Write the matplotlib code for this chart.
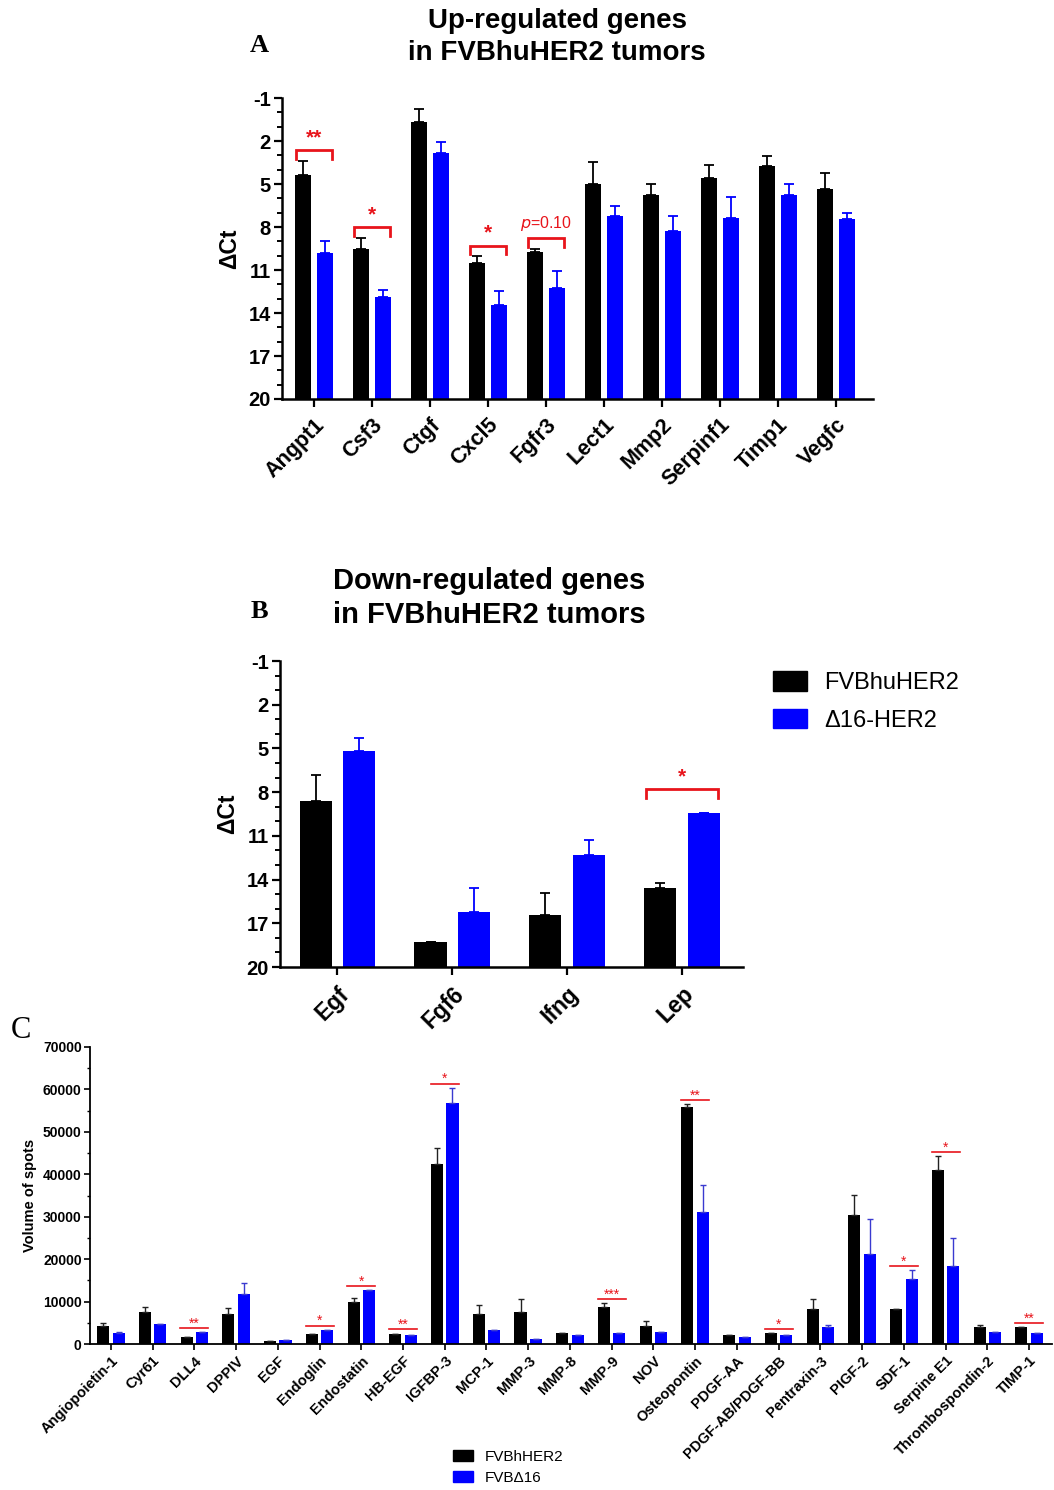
import numpy as np
import matplotlib
matplotlib.use('Agg')
import matplotlib.pyplot as plt
from matplotlib.patches import Patch
from matplotlib.ticker import MultipleLocator

plt.rcParams['font.family'] = ['Liberation Sans', 'DejaVu Sans']
plt.rcParams['axes.unicode_minus'] = False

# panel A - up-regulated genes (dCt, lower = more expression)
genes_a = ['Angpt1', 'Csf3', 'Ctgf', 'Cxcl5', 'Fgfr3', 'Lect1', 'Mmp2', 'Serpinf1', 'Timp1', 'Vegfc']
her2_a = [4.4, 9.5, 0.65, 10.5, 9.75, 5.0, 5.75, 4.55, 3.75, 5.35]
her2_a_err = [1.0, 0.75, 0.9, 0.45, 0.2, 1.55, 0.75, 0.9, 0.7, 1.15]
d16_a = [9.8, 12.9, 2.85, 13.45, 12.25, 7.2, 8.3, 7.35, 5.75, 7.45]
d16_a_err = [0.85, 0.5, 0.75, 1.0, 1.2, 0.7, 1.1, 1.45, 0.75, 0.4]
sig_a = {0: '**', 1: '*', 3: '*', 4: 'p=0.10'}

# panel B - down-regulated genes
genes_b = ['Egf', 'Fgf6', 'Ifng', 'Lep']
her2_b = [8.6, 18.3, 16.4, 14.55]
her2_b_err = [1.8, 0.0, 1.5, 0.3]
d16_b = [5.15, 16.2, 12.3, 9.4]
d16_b_err = [0.85, 1.65, 1.0, 0.0]
sig_b = {3: '*'}

# panel C - angiogenesis array
prot_c = ['Angiopoietin-1', 'Cyr61', 'DLL4', 'DPPIV', 'EGF', 'Endoglin', 'Endostatin', 'HB-EGF',
          'IGFBP-3', 'MCP-1', 'MMP-3', 'MMP-8', 'MMP-9', 'NOV', 'Osteopontin', 'PDGF-AA',
          'PDGF-AB/PDGF-BB', 'Pentraxin-3', 'PIGF-2', 'SDF-1', 'Serpine E1', 'Thrombospondin-2', 'TIMP-1']
her2_c = [4200, 7500, 1600, 7100, 800, 2450, 10000, 2450, 42500, 7150, 7450, 2650, 8800, 4250,
          55800, 2050, 2500, 8300, 30300, 8200, 40900, 3950, 3950]
her2_c_err = [700, 1300, 0, 1450, 0, 0, 900, 0, 3800, 1950, 3050, 0, 800, 1100,
              750, 0, 0, 2200, 4800, 100, 3300, 450, 0]
d16_c = [2650, 4700, 2750, 11800, 1000, 3200, 12650, 2200, 56900, 3300, 1250, 2100, 2500, 2800,
         31100, 1750, 2200, 3950, 21100, 15300, 18400, 2800, 2650]
d16_c_err = [250, 0, 0, 2500, 0, 150, 0, 0, 3450, 0, 0, 0, 0, 0,
             6400, 0, 0, 600, 8400, 2100, 6700, 0, 0]
sig_c = {2: '**', 5: '*', 6: '*', 7: '**', 8: '*', 12: '***', 14: '**', 16: '*', 19: '*', 20: '*', 22: '**'}

BLUE = '#0000ff'
RED = '#e8141b'

fig = plt.figure(figsize=(10.54, 14.90), dpi=100)


def dct_panel(rect, genes, k, k_err, b, b_err, sigs, off, xlim, sig_gap, xfs):
    ax = fig.add_axes(rect)
    x = np.arange(len(genes))
    k = np.array(k); b = np.array(b)
    k_err = np.array(k_err); b_err = np.array(b_err)
    w = 0.28
    ax.bar(x - off, k - 20, bottom=20, width=w, color='black')
    ax.bar(x + off, b - 20, bottom=20, width=w, color=BLUE)
    ax.errorbar(x - off, k, yerr=[k_err, np.zeros_like(k_err)], fmt='none', ecolor='black',
                elinewidth=1.3, capsize=3.5, capthick=1.3)
    ax.errorbar(x + off, b, yerr=[b_err, np.zeros_like(b_err)], fmt='none', ecolor=BLUE,
                elinewidth=1.3, capsize=3.5, capthick=1.3)
    ax.set_ylim(20, -1)
    ax.set_xlim(*xlim)
    ax.set_yticks([-1, 2, 5, 8, 11, 14, 17, 20])
    ax.yaxis.set_minor_locator(MultipleLocator(1))
    ax.set_xticks(x)
    ax.set_xticklabels(genes, rotation=45, ha='right', rotation_mode='anchor',
                       fontweight='bold', fontsize=xfs)
    for t in ax.get_yticklabels():
        t.set_fontweight('bold')
        t.set_fontsize(14.5)
    ax.tick_params(axis='both', which='major', length=6, width=1.6, pad=2)
    ax.tick_params(axis='y', which='minor', length=3.5, width=1.4)
    ax.tick_params(axis='x', pad=5)
    for s in ['top', 'right']:
        ax.spines[s].set_visible(False)
    for s in ['left', 'bottom']:
        ax.spines[s].set_linewidth(1.8)
    ax.set_ylabel('ΔCt', fontsize=16.5, fontweight='bold', labelpad=5)
    for i, lab in sigs.items():
        top = min(k[i] - k_err[i], b[i] - b_err[i])
        yb = top - sig_gap
        x0, x1 = i - off - 0.12, i + off + 0.12
        ax.plot([x0, x0, x1, x1], [yb + 0.6, yb, yb, yb + 0.6], color=RED, lw=2,
                solid_joinstyle='miter', clip_on=False)
        if lab.startswith('p'):
            ax.text(i, yb - 0.35, r'$\it{p}$' + lab[1:], color=RED, ha='center', va='bottom', fontsize=11.5)
        else:
            ax.text(i, yb - 0.2, lab, color=RED, ha='center', va='bottom', fontsize=15, fontweight='bold')
    return ax


axA = dct_panel([282 / 1054, 1 - 399 / 1490, (873 - 282) / 1054, (399 - 98) / 1490],
                genes_a, her2_a, her2_a_err, d16_a, d16_a_err, sig_a, 0.19, (-0.55, 9.64), 0.75, 15.5)
fig.text(557 / 1054, 1 - 37 / 1490, 'Up-regulated genes\nin FVBhuHER2 tumors', ha='center', va='center',
         fontsize=20, fontweight='bold', linespacing=1.35)
fig.text(259 / 1054, 1 - 46 / 1490, 'A', ha='center', va='center', fontsize=19, fontweight='bold',
         family='Liberation Serif')

axB = dct_panel([280 / 1054, 1 - 967 / 1490, (743 - 280) / 1054, (967 - 661) / 1490],
                genes_b, her2_b, her2_b_err, d16_b, d16_b_err, sig_b, 0.19, (-0.5, 3.53), 1.6, 16.5)
fig.text(489 / 1054, 1 - 598 / 1490, 'Down-regulated genes\nin FVBhuHER2 tumors', ha='center', va='center',
         fontsize=21, fontweight='bold', linespacing=1.3)
fig.text(259 / 1054, 1 - 612 / 1490, 'B', ha='center', va='center', fontsize=19, fontweight='bold',
         family='Liberation Serif')
fig.legend(handles=[Patch(color='black'), Patch(color=BLUE)], labels=['FVBhuHER2', 'Δ16-HER2'],
           loc='upper left', bbox_to_anchor=(752 / 1054, 1 - 650 / 1490), frameon=False, fontsize=17,
           handlelength=1.45, handleheight=0.9, labelspacing=0.62, handletextpad=0.7)

# panel C
axC = fig.add_axes([90 / 1054, 1 - 1344 / 1490, (1052 - 90) / 1054, (1344 - 1047) / 1490])
xc = np.arange(len(prot_c))
k = np.array(her2_c); b = np.array(d16_c)
ke = np.array(her2_c_err); be = np.array(d16_c_err)
offc, wc = 0.185, 0.29
axC.bar(xc - offc, k, width=wc, color='black')
axC.bar(xc + offc, b, width=wc, color=BLUE)
axC.errorbar(xc - offc, k, yerr=[np.zeros_like(ke), ke], fmt='none', ecolor='#222222',
             elinewidth=1.0, capsize=2.5, capthick=1.0)
axC.errorbar(xc + offc, b, yerr=[np.zeros_like(be), be], fmt='none', ecolor='#3a3ad0',
             elinewidth=1.0, capsize=2.5, capthick=1.0)
axC.set_ylim(0, 70000)
axC.set_xlim(-0.5, 22.55)
axC.yaxis.set_major_locator(MultipleLocator(10000))
axC.yaxis.set_minor_locator(MultipleLocator(5000))
axC.set_xticks(xc)
axC.set_xticklabels(prot_c, rotation=45, ha='right', rotation_mode='anchor', fontweight='bold', fontsize=10.5)
for t in axC.get_yticklabels():
    t.set_fontweight('bold')
    t.set_fontsize(10)
axC.tick_params(axis='both', which='major', length=4, width=1.2, pad=2)
axC.tick_params(axis='y', which='minor', length=2.5, width=1.0)
axC.tick_params(axis='x', pad=3)
for s in ['top', 'right']:
    axC.spines[s].set_visible(False)
for s in ['left', 'bottom']:
    axC.spines[s].set_linewidth(1.3)
axC.set_ylabel('Volume of spots', fontsize=10.5, fontweight='bold', labelpad=4)
for i, lab in sig_c.items():
    yl = max(k[i] + ke[i], b[i] + be[i]) + 1000
    axC.plot([i - offc - 0.15, i + offc + 0.15], [yl, yl], color=RED, lw=1.2)
    axC.text(i, yl - 600, lab, color=RED, ha='center', va='bottom', fontsize=10)
fig.text(21 / 1054, 1 - 1030 / 1490, 'C', ha='center', va='center', fontsize=22,
         family='Liberation Serif')
fig.legend(handles=[Patch(color='black'), Patch(color=BLUE)], labels=['FVBhHER2', 'FVBΔ16'],
           loc='upper left', bbox_to_anchor=(439 / 1054, 1 - 1436 / 1490), frameon=False, fontsize=11,
           handlelength=1.3, handleheight=0.8, labelspacing=0.45, handletextpad=0.8)

fig.savefig('out.png', dpi=100)
